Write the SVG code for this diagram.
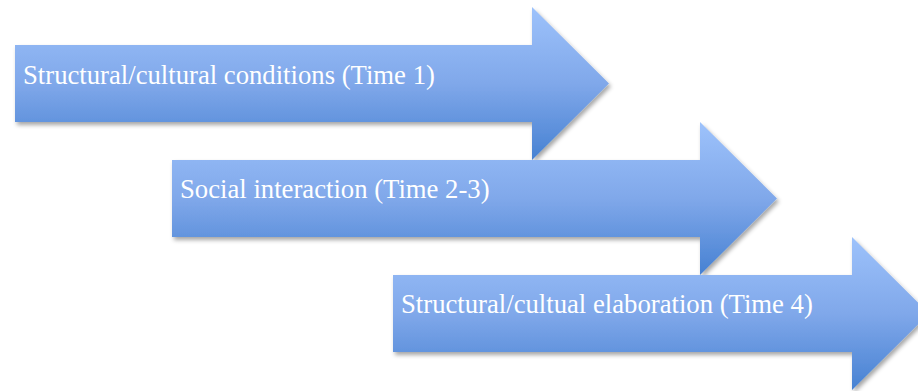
<svg xmlns="http://www.w3.org/2000/svg" width="918" height="391" viewBox="0 0 918 391">
<style>
.arrow{fill:url(#g);filter:url(#sh)}
.lbl{font-family:"Liberation Serif","Times New Roman",serif;font-size:26.7px;fill:#ffffff}
</style>
<defs>
<linearGradient id="g" x1="0" y1="0" x2="0" y2="1">
<stop offset="0" stop-color="#9DC2FB"/>
<stop offset="0.5" stop-color="#80A8EA"/>
<stop offset="1" stop-color="#4681D2"/>
</linearGradient>
<filter id="sh" x="-5%" y="-10%" width="115%" height="130%">
<feDropShadow dx="2" dy="3" stdDeviation="2" flood-color="#000" flood-opacity="0.35"/>
</filter>
</defs>
<g id="arrow1">
<path class="arrow" d="M15,45 H532 V7 L609,83.5 L532,160 V122 H15 Z"/>
<text class="lbl" x="23" y="84">Structural/cultural conditions (Time 1)</text>
</g>
<g id="arrow2">
<path class="arrow" d="M172,160 H700 V122 L777,198.5 L700,275 V237 H172 Z"/>
<text class="lbl" x="180" y="198">Social interaction (Time 2-3)</text>
</g>
<g id="arrow3">
<path class="arrow" d="M393,275 H852 V237 L929,313.5 L852,390 V352 H393 Z"/>
<text class="lbl" x="401" y="313">Structural/cultual elaboration (Time 4)</text>
</g>
<g id="connectors"></g>
</svg>
